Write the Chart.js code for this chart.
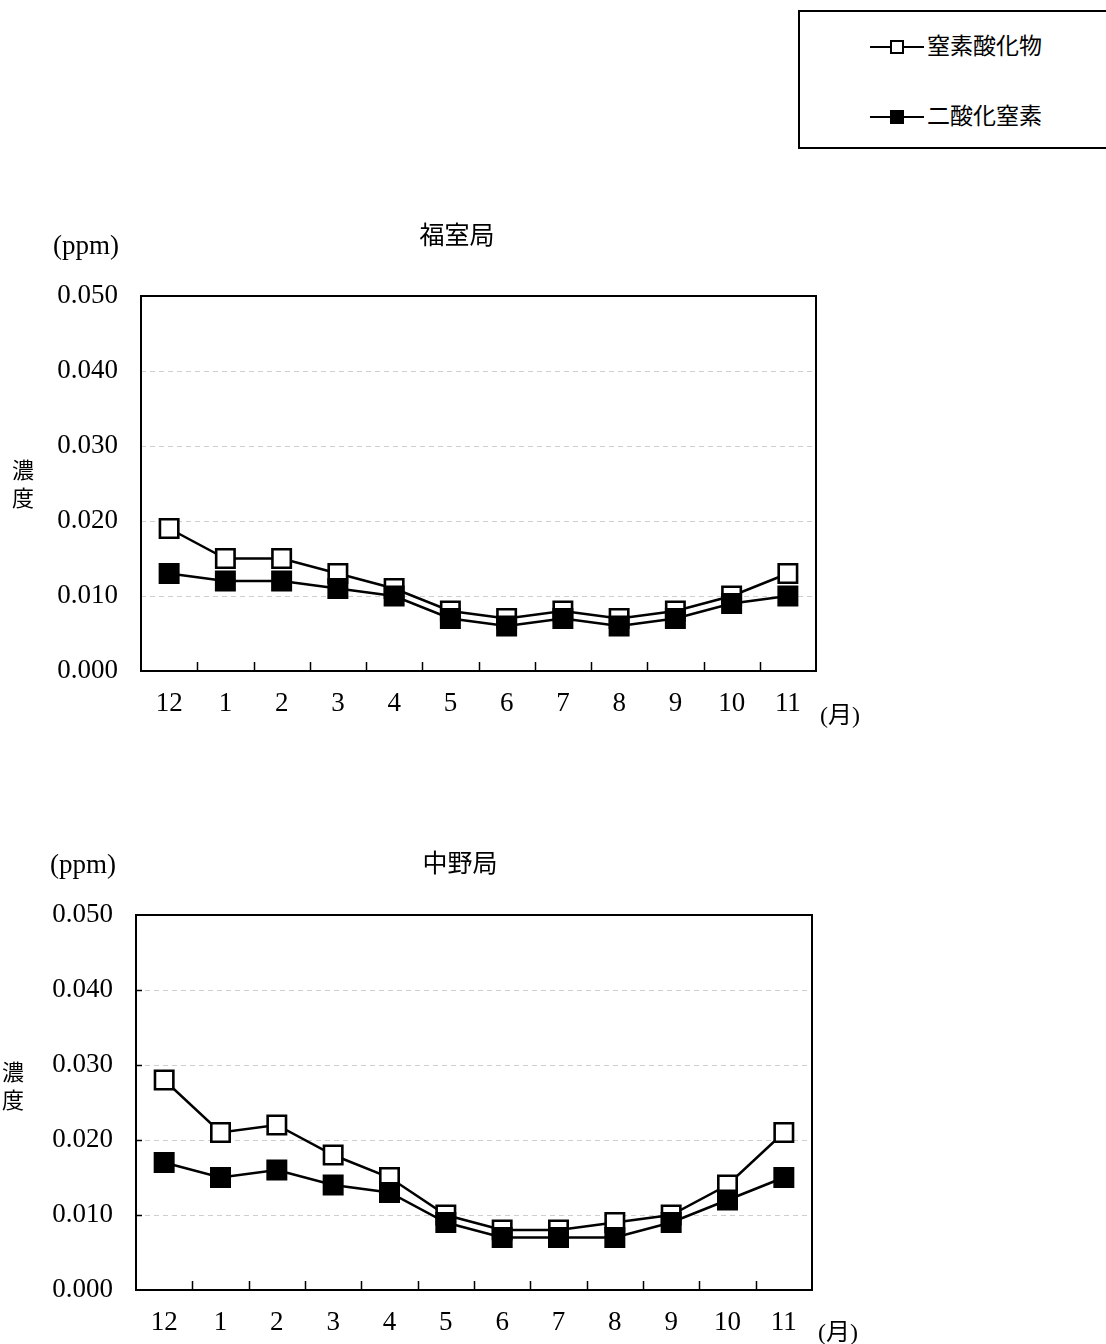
<!DOCTYPE html>
<html><head><meta charset="utf-8">
<script src="https://cdn.jsdelivr.net/npm/chart.js@4.4.1/dist/chart.umd.min.js"></script>
<style>
html,body{margin:0;padding:0;background:#fff;}
body{width:1106px;height:1344px;position:relative;overflow:hidden;}
canvas{position:absolute;left:0;}
#legend{position:absolute;left:798px;top:10px;width:308px;height:139px;border:2px solid #000;border-right:none;box-sizing:border-box;background:#fff;}
.item{position:absolute;left:70px;height:30px;width:220px;}
.item .ln{position:absolute;left:0;top:14px;width:54px;height:2px;background:#000;}
.item .mk{position:absolute;left:20px;top:8px;width:14px;height:14px;box-sizing:border-box;border:2px solid #000;}
.item .tx{position:absolute;left:57px;top:-5px;font-family:"Noto Sans CJK JP";font-size:23px;line-height:34px;color:#000;white-space:nowrap;}
</style>
</head><body>
<div id="legend"></div>
<canvas id="c1" width="1106" height="580" style="top:190px"></canvas>
<canvas id="c2" width="1106" height="534" style="top:810px"></canvas>
<script>
// ---- data ----
const months = ['12','1','2','3','4','5','6','7','8','9','10','11'];
const seriesNames = ['窒素酸化物','二酸化窒素'];
const yTickValues = [0, 0.01, 0.02, 0.03, 0.04, 0.05];
const fukumuroNOx = [0.019,0.015,0.015,0.013,0.011,0.008,0.007,0.008,0.007,0.008,0.010,0.013];
const fukumuroNO2 = [0.013,0.012,0.012,0.011,0.010,0.007,0.006,0.007,0.006,0.007,0.009,0.010];
const nakanoNOx   = [0.028,0.021,0.022,0.018,0.015,0.010,0.008,0.008,0.009,0.010,0.014,0.021];
const nakanoNO2   = [0.017,0.015,0.016,0.014,0.013,0.009,0.007,0.007,0.007,0.009,0.012,0.015];
const stationNames = ['福室局','中野局'];
const unitLabel = '(ppm)';
const yAxisLabel = ['濃','度'];
const monthUnit = '(月)';

// ---- legend ----
const legendEl = document.getElementById('legend');
seriesNames.forEach((n, i) => {
  const d = document.createElement('div');
  d.className = 'item';
  d.style.top = (20 + i * 70) + 'px';
  d.innerHTML = '<div class="ln"></div><div class="mk" style="background:' + (i === 0 ? '#fff' : '#000') + '"></div><div class="tx">' + n + '</div>';
  legendEl.appendChild(d);
});

const serif = '"Liberation Serif", "Times New Roman", serif';
const cjk = '"Noto Sans CJK JP", sans-serif';

const deco = {
  id: 'deco',
  beforeDatasetsDraw(chart, args, o) {
    const {ctx, chartArea: a, scales: {x, y}} = chart;
    ctx.save();
    ctx.strokeStyle = '#000';
    ctx.lineWidth = 1.5;
    ctx.beginPath();
    for (let i = 1; i < months.length; i++) {
      const px = Math.round((x.getPixelForValue(i - 1) + x.getPixelForValue(i)) / 2) + 0.5;
      ctx.moveTo(px, a.bottom);
      ctx.lineTo(px, a.bottom - 9);
    }
    if (o.yTicks) {
      yTickValues.slice(1, -1).forEach(v => {
        const py = Math.round(y.getPixelForValue(v)) + 0.5;
        ctx.moveTo(a.left, py);
        ctx.lineTo(a.left + 6, py);
      });
    }
    ctx.stroke();
    ctx.restore();
  },
  afterDraw(chart, args, o) {
    const {ctx, chartArea: a} = chart;
    ctx.save();
    ctx.strokeStyle = '#000';
    ctx.lineWidth = 2;
    ctx.strokeRect(a.left, a.top, a.right - a.left, a.bottom - a.top);
    ctx.fillStyle = '#000';
    ctx.textBaseline = 'middle';
    ctx.textAlign = 'center';
    ctx.font = '25px ' + cjk;
    ctx.fillText(o.title, o.titlePos[0], o.titlePos[1]);
    ctx.font = '27px ' + serif;
    ctx.fillText(unitLabel, o.unitPos[0], o.unitPos[1]);
    ctx.font = '22px ' + cjk;
    ctx.fillText(yAxisLabel[0], o.yLabPos[0], o.yLabPos[1]);
    ctx.fillText(yAxisLabel[1], o.yLabPos[0], o.yLabPos[1] + 28);
    ctx.font = '24px ' + serif + ', ' + cjk;
    ctx.fillText(monthUnit, o.monthPos[0], o.monthPos[1]);
    ctx.restore();
  }
};

function makeChart(id, nox, no2, pad, xH, decoOpts) {
  return new Chart(document.getElementById(id), {
    type: 'line',
    data: {
      labels: months,
      datasets: [
        { label: seriesNames[0], data: nox, order: 1, borderColor: '#000', borderWidth: 2.5,
          pointStyle: 'rect', pointRadius: 13, pointBorderWidth: 2.6,
          pointBackgroundColor: '#fff', pointBorderColor: '#000', tension: 0, fill: false },
        { label: seriesNames[1], data: no2, order: 0, borderColor: '#000', borderWidth: 2.5,
          pointStyle: 'rect', pointRadius: 13, pointBorderWidth: 2.6,
          pointBackgroundColor: '#000', pointBorderColor: '#000', tension: 0, fill: false }
      ]
    },
    options: {
      responsive: false,
      animation: false,
      devicePixelRatio: 1,
      layout: { padding: pad },
      plugins: { legend: { display: false }, tooltip: { enabled: false }, title: { display: false }, deco: decoOpts },
      scales: {
        x: {
          offset: true,
          grid: { display: false },
          border: { display: false },
          ticks: { color: '#000', font: { family: serif, size: 27 }, padding: 9, maxRotation: 0, autoSkip: false },
          afterFit: s => { s.height = xH; }
        },
        y: {
          min: 0, max: 0.05,
          afterBuildTicks: s => { s.ticks = yTickValues.map(v => ({ value: v })); },
          grid: { color: '#cfcfcf', lineWidth: 1, drawTicks: false },
          border: { display: false, dash: [5, 4] },
          ticks: { color: '#000', font: { family: serif, size: 27 }, padding: 23,
                   callback: v => Number(v).toFixed(3) },
          afterFit: s => { s.width = 100; }
        }
      }
    },
    plugins: [deco]
  });
}

makeChart('c1', fukumuroNOx, fukumuroNO2,
  { left: 41, right: 290, top: 106, bottom: 39 }, 60,
  { title: stationNames[0], titlePos: [457, 44], unitPos: [86, 57], yLabPos: [23, 280], monthPos: [840, 527], yTicks: false });

makeChart('c2', nakanoNOx, nakanoNO2,
  { left: 36, right: 294, top: 105, bottom: 4 }, 50,
  { title: stationNames[1], titlePos: [460, 52], unitPos: [83, 56], yLabPos: [13, 262], monthPos: [838, 524], yTicks: true });
</script>
</body></html>
